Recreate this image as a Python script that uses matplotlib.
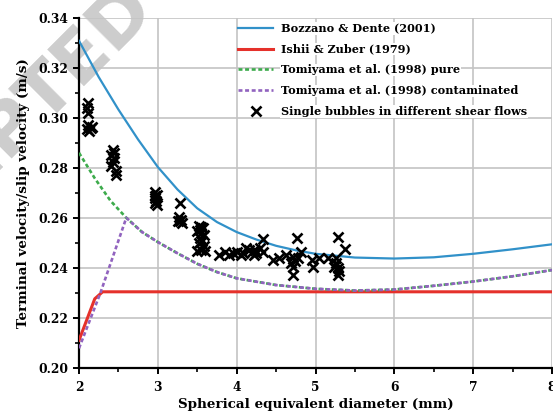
import matplotlib
matplotlib.use("Agg")
import matplotlib.pyplot as plt
from matplotlib.ticker import MultipleLocator, FormatStrFormatter

plt.rcParams['font.family'] = ['DejaVu Serif']
plt.rcParams['font.weight'] = 'bold'

# Bozzano & Dente (2001)
bd_x = [2.0, 2.25, 2.5, 2.75, 3.0, 3.25, 3.5, 3.75, 4.0, 4.25, 4.5, 4.75, 5.0, 5.5, 6.0, 6.5, 7.0, 7.5, 8.0]
bd_y = [0.331, 0.3165, 0.3035, 0.2915, 0.2805, 0.2715, 0.2640, 0.2585, 0.2545, 0.2515, 0.2490, 0.2472,
        0.2458, 0.2443, 0.2439, 0.2444, 0.2458, 0.2476, 0.2496]
# Ishii & Zuber (1979)
iz_x = [2.0, 2.2, 2.3, 8.0]
iz_y = [0.2112, 0.2278, 0.2306, 0.2306]
# Tomiyama et al. (1998) pure
tp_x = [2.0, 2.2, 2.4, 2.6, 2.8, 3.0, 3.25, 3.5, 3.75, 4.0, 4.5, 5.0, 5.5, 6.0, 6.5, 7.0, 7.5, 8.0]
tp_y = [0.2862, 0.2760, 0.2670, 0.2602, 0.2545, 0.2505, 0.2460, 0.2418, 0.2385, 0.2360, 0.2333, 0.2318,
        0.2311, 0.2315, 0.2330, 0.2347, 0.2368, 0.2393]
# Tomiyama et al. (1998) contaminated
tc_x = [2.0, 2.27, 2.6, 2.8, 3.0, 3.25, 3.5, 3.75, 4.0, 4.5, 5.0, 5.5, 6.0, 6.5, 7.0, 7.5, 8.0]
tc_y = [0.2080, 0.2300, 0.2602, 0.2545, 0.2505, 0.2460, 0.2418, 0.2385, 0.2360, 0.2333, 0.2318,
        0.2311, 0.2315, 0.2330, 0.2347, 0.2368, 0.2393]
# Single bubbles in different shear flows
sb_x = [2.12, 2.10, 2.12, 2.12, 2.15, 2.10, 2.17, 2.13,
        2.43, 2.41, 2.45, 2.43, 2.41, 2.47, 2.47, 2.45,
        2.97, 2.99, 2.96, 2.98, 2.97, 2.99, 2.96,
        3.28, 3.27, 3.30, 3.25, 3.31, 3.28,
        3.52, 3.55, 3.57, 3.50, 3.55, 3.58, 3.53, 3.56, 3.52, 3.58, 3.50, 3.55, 3.60, 3.54,
        3.78, 3.85, 3.90, 3.95, 4.00, 4.05, 4.08, 4.16, 4.20, 4.23, 4.25, 4.30, 4.33, 4.33, 4.12, 4.22,
        4.46, 4.54, 4.63, 4.71, 4.69, 4.71, 4.71, 4.76, 4.82, 4.78, 4.74, 4.95, 4.97, 5.05, 5.16,
        5.28, 5.38, 5.26, 5.26, 5.28, 5.28, 5.24, 5.30]
sb_y = [0.3062, 0.3040, 0.3020, 0.2973, 0.2960, 0.2956, 0.2965, 0.2950,
        0.2873, 0.2853, 0.2840, 0.2827, 0.2809, 0.2790, 0.2773, 0.2860,
        0.2705, 0.2695, 0.2680, 0.2670, 0.2660, 0.2655, 0.2690,
        0.2660, 0.2605, 0.2595, 0.2590, 0.2582, 0.2588,
        0.2570, 0.2565, 0.2560, 0.2550, 0.2540, 0.2535, 0.2520, 0.2510, 0.2500, 0.2490, 0.2470, 0.2475, 0.2470, 0.2555,
        0.2455, 0.2465, 0.2455, 0.2460, 0.2465, 0.2455, 0.2460, 0.2473, 0.2465, 0.2473, 0.2460, 0.2480, 0.2467, 0.2517, 0.2480, 0.2452,
        0.2433, 0.2440, 0.2453, 0.2447, 0.2420, 0.2407, 0.2373, 0.2522, 0.2467, 0.2440, 0.2430, 0.2433, 0.2407, 0.2440, 0.2440,
        0.2527, 0.2477, 0.2440, 0.2420, 0.2400, 0.2373, 0.2407, 0.2390]

labels = ["Bozzano & Dente (2001)", "Ishii & Zuber (1979)", "Tomiyama et al. (1998) pure",
          "Tomiyama et al. (1998) contaminated", "Single bubbles in different shear flows"]

fig = plt.figure(figsize=(5.53, 4.12), dpi=100)
fig.patch.set_facecolor('white')

# watermark
fig.text(-142/553, 1-312/412, "ACCEPTED MANUSCRIPT", rotation=45, fontsize=52, color='#cdcdcd',
         family='DejaVu Sans', weight='bold', ha='left', va='baseline', rotation_mode='anchor', zorder=-5)

ax = fig.add_axes([79/553, 1-368.3/412, 473/553, 350/412])
ax.set_facecolor('none')

ax.plot(bd_x, bd_y, color='#3191c9', lw=1.6, label=labels[0], zorder=3)
ax.plot(iz_x, iz_y, color='#e5312b', lw=2.2, label=labels[1], zorder=3)
ax.plot(tp_x, tp_y, color='#3dab4c', lw=1.9, ls=(0, (1.5, 1.0)), label=labels[2], zorder=4)
ax.plot(tc_x, tc_y, color='#9163bf', lw=1.9, ls=(0, (1.5, 1.0)), label=labels[3], zorder=5)
ax.plot(sb_x, sb_y, ls='none', marker='x', ms=7.3, mew=1.9, color='black', label=labels[4], zorder=6)

ax.set_xlim(2, 8)
ax.set_ylim(0.20, 0.34)
ax.xaxis.set_major_locator(MultipleLocator(1))
ax.xaxis.set_minor_locator(MultipleLocator(0.5))
ax.yaxis.set_major_locator(MultipleLocator(0.02))
ax.yaxis.set_minor_locator(MultipleLocator(0.01))
ax.yaxis.set_major_formatter(FormatStrFormatter('%.2f'))
ax.grid(True, which='major', color='#c4c4c4', lw=1.2, zorder=0)
ax.set_axisbelow(True)

for s in ['top', 'right']:
    ax.spines[s].set_visible(False)
for s in ['left', 'bottom']:
    ax.spines[s].set_linewidth(1.6)
    ax.spines[s].set_color('black')

ax.tick_params(which='major', direction='out', length=4.5, width=1.4, labelsize=8.8, pad=3)
ax.tick_params(axis='x', which='major', pad=4.5)
ax.tick_params(which='minor', direction='out', length=3, width=1.2)
for t in ax.get_xticklabels() + ax.get_yticklabels():
    t.set_fontweight('bold')

ax.set_xlabel("Spherical equivalent diameter (mm)", fontsize=9.7, fontweight='bold', labelpad=3)
ax.set_ylabel("Terminal velocity/slip velocity (m/s)", fontsize=9.7, fontweight='bold', labelpad=6)

leg = ax.legend(loc='upper left', bbox_to_anchor=(0.337, 0.987), frameon=False, fontsize=8.1,
                handlelength=3.1, handletextpad=0.7, labelspacing=0.87, borderpad=0, borderaxespad=0)
for t in leg.get_texts():
    t.set_fontweight('bold')
    t.set_bbox(dict(facecolor='white', edgecolor='none', pad=0.5))

fig.savefig("out.png", dpi=100)
